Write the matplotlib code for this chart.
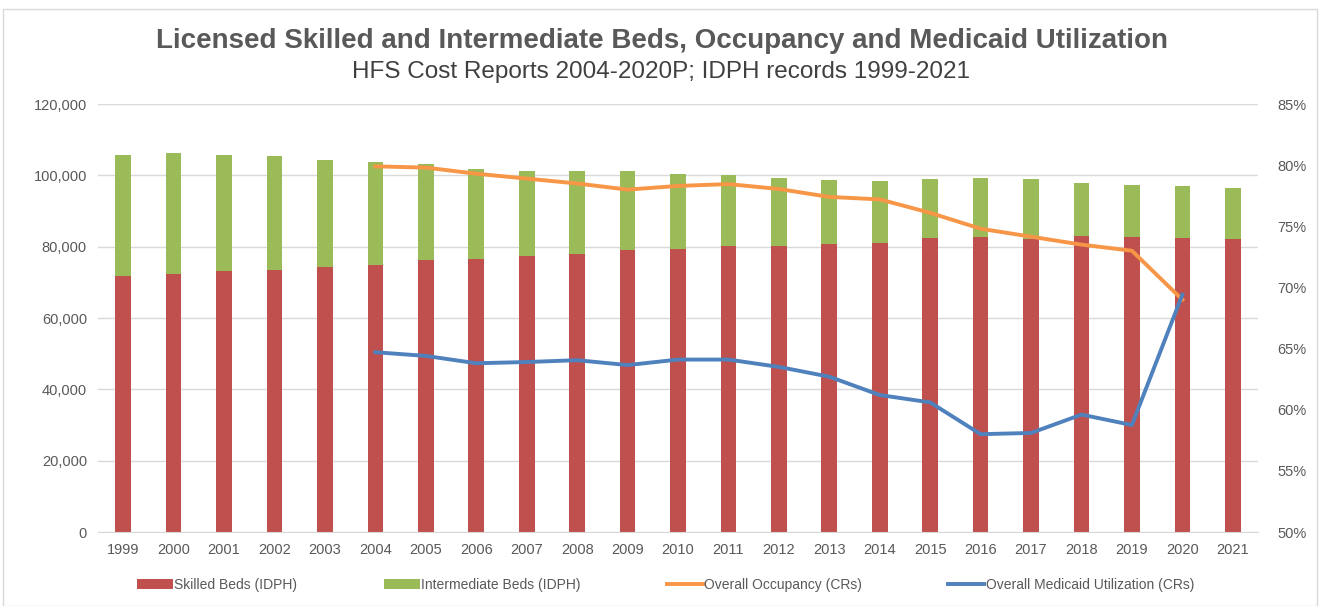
import numpy as np
from matplotlib import pyplot as plt
from matplotlib.patches import Rectangle
from matplotlib.ticker import FuncFormatter

plt.rcParams['font.family'] = ['Liberation Sans', 'DejaVu Sans']

years = [str(y) for y in range(1999, 2022)]
skilled = [71.8, 72.4, 73.1, 73.5, 74.2, 74.9, 76.2, 76.5, 77.4, 78.0, 79.2, 79.4,
           80.1, 80.3, 80.7, 81.1, 82.5, 82.8, 82.1, 83.0, 82.8, 82.5, 82.2]
total = [105.8, 106.2, 105.8, 105.3, 104.3, 103.6, 103.2, 101.8, 101.3, 101.1, 101.3, 100.4,
         100.0, 99.2, 98.7, 98.5, 98.9, 99.3, 98.9, 97.9, 97.3, 96.9, 96.4]
skilled = [v * 1000 for v in skilled]
intermediate = [t * 1000 - s for t, s in zip(total, skilled)]

line_years = [str(y) for y in range(2004, 2021)]
occupancy = [79.9, 79.8, 79.3, 78.9, 78.5, 78.0, 78.3, 78.45, 78.05, 77.4, 77.2, 76.1,
             74.8, 74.15, 73.5, 73.0, 69.0]
medicaid = [64.7, 64.4, 63.8, 63.9, 64.05, 63.65, 64.1, 64.1, 63.5, 62.7, 61.2, 60.6,
            58.0, 58.1, 59.6, 58.75, 69.4]

RED = '#c0504d'
GREEN = '#9bbb59'
ORANGE = '#f79646'
BLUE = '#4f81bd'
GRAY = '#595959'

fig = plt.figure(figsize=(13.23, 6.06), dpi=100)
fig.patches.append(Rectangle((3/1323, 0), 1314/1323, 1 - 9/606, transform=fig.transFigure,
                             fill=False, edgecolor='#d9d9d9', linewidth=1))
ax = fig.add_axes([98/1323, 1 - 532/606, 1160/1323, 428/606])

x = np.arange(len(years))
ax.bar(x, skilled, width=0.31, color=RED, label='Skilled Beds (IDPH)', zorder=2)
ax.bar(x, intermediate, width=0.31, bottom=skilled, color=GREEN,
       label='Intermediate Beds (IDPH)', zorder=2)
ax.set_xlim(-0.5, len(years) - 0.5)
ax.set_ylim(0, 120000)
ax.set_yticks(np.arange(0, 120001, 20000))
ax.yaxis.set_major_formatter(FuncFormatter(lambda v, p: f'{int(v):,}'))
ax.set_xticks(x)
ax.set_xticklabels(years)
ax.grid(axis='y', color='#d9d9d9', linewidth=1, zorder=0)
ax.set_axisbelow(True)
for s in ['top', 'right', 'left']:
    ax.spines[s].set_visible(False)
ax.spines['bottom'].set_color('#d9d9d9')
ax.tick_params(length=0, labelsize=10.5, colors=GRAY, pad=8)

ax2 = ax.twinx()
lx = [years.index(y) for y in line_years]
ax2.plot(lx, occupancy, color=ORANGE, linewidth=2.8, label='Overall Occupancy (CRs)', zorder=3)
ax2.plot(lx, medicaid, color=BLUE, linewidth=2.8, label='Overall Medicaid Utilization (CRs)', zorder=3)
ax2.set_ylim(50, 85)
ax2.set_yticks(np.arange(50, 86, 5))
ax2.yaxis.set_major_formatter(FuncFormatter(lambda v, p: f'{int(v)}%'))
for s in ax2.spines.values():
    s.set_visible(False)
ax2.tick_params(length=0, labelsize=10.5, colors=GRAY, pad=14)

fig.text(0.5, 1 - 41/606, 'Licensed Skilled and Intermediate Beds, Occupancy and Medicaid Utilization',
         ha='center', va='center', fontsize=20, fontweight='bold', color=GRAY)
fig.text(0.5, 1 - 72/606, 'HFS Cost Reports 2004-2020P; IDPH records 1999-2021',
         ha='center', va='center', fontsize=17.5, color='#404040')

h1, l1 = ax.get_legend_handles_labels()
h2, l2 = ax2.get_legend_handles_labels()
fig.legend(h1 + h2, l1 + l2, loc='center', bbox_to_anchor=(0.503, 1 - 585/606), ncol=4,
           frameon=False, fontsize=10, labelcolor=GRAY, handlelength=2.6,
           handleheight=0.8, columnspacing=6.2, handletextpad=0.1)

fig.savefig('out.png', dpi=100)
